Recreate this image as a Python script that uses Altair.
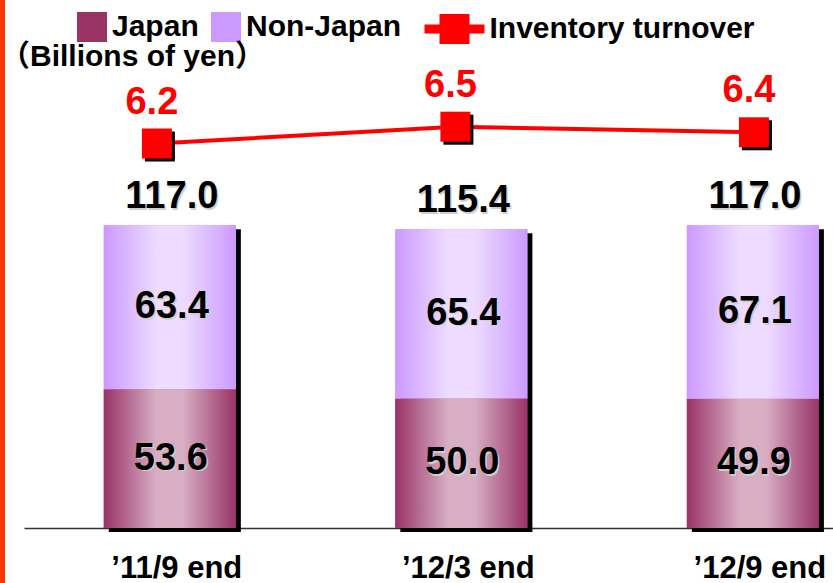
import altair as alt
import pandas as pd

# ---- data ----
categories = ["’11/9 end", "’12/3 end", "’12/9 end"]
japan = [53.6, 50.0, 49.9]
non_japan = [63.4, 65.4, 67.1]
totals = [117.0, 115.4, 117.0]
turnover = [6.2, 6.5, 6.4]
series_names = ["Japan", "Non-Japan"]
series_colors = ["#993366", "#CC99FF"]
line_name = "Inventory turnover"

df = pd.DataFrame({
    "period": categories,
    "Japan": japan,
    "Non-Japan": non_japan,
    "total": totals,
    "turnover": turnover,
})

FONT = "Liberation Sans"
W, H = 809, 528

base = alt.Chart(df)

# ---------------- bar group ----------------
x_bar = alt.X(
    "period:N", sort=categories,
    scale=alt.Scale(paddingInner=0.547, paddingOuter=0.161, align=0.85),
    axis=alt.Axis(title=None, labelAngle=0, domainColor="#333333", domainWidth=1.5,
                  ticks=False, tickSize=0, labelFont=FONT, labelFontSize=31,
                  labelFontWeight="bold", labelColor="black", labelBaseline="alphabetic",
                  labelPadding=49, labelOffset=7, labelAlign="center"),
)
y_scale = alt.Scale(domain=[0, 204], nice=False, zero=True)


def grad(edge, light):
    return alt.Gradient(
        gradient="linear",
        stops=[
            alt.GradientStop(color=edge, offset=0),
            alt.GradientStop(color=light, offset=0.4),
            alt.GradientStop(color=light, offset=0.6),
            alt.GradientStop(color=edge, offset=1),
        ],
        x1=0, x2=1, y1=0, y2=0,
    )


left_rule = base.mark_rule(color="#FF3300", strokeWidth=5).encode(
    x=alt.value(-21.5), y=alt.value(0), y2=alt.value(583)
)

shadow = base.mark_bar(color="black", xOffset=5, yOffset=4).encode(
    x=x_bar, y=alt.Y("total:Q", scale=y_scale, axis=None)
)

legend_bars = base.transform_fold(series_names, as_=["series", "amount"]).mark_bar().encode(
    x=x_bar,
    y=alt.Y("amount:Q", stack="zero", scale=y_scale, axis=None),
    color=alt.Color(
        "series:N",
        scale=alt.Scale(domain=series_names, range=series_colors),
        legend=alt.Legend(
            title=None, orient="none", legendX=53, legendY=12, direction="horizontal",
            symbolType="square", symbolSize=900, symbolStrokeWidth=0,
            labelFont=FONT, labelFontSize=30, labelFontWeight="bold", labelColor="black",
            labelOffset=5, columnPadding=12, padding=0, labelLimit=400,
        ),
    ),
    order=alt.Order("series:N"),
)

japan_bar = base.mark_bar(color=grad("#993366", "#D8AEC4")).encode(
    x=x_bar, y=alt.Y("Japan:Q", scale=y_scale, axis=None)
)
nonjapan_bar = base.mark_bar(color=grad("#CC99FF", "#EDDCFF")).encode(
    x=x_bar, y=alt.Y("Japan:Q", scale=y_scale, axis=None), y2="total:Q"
)

txt = dict(font=FONT, fontSize=38, fontWeight="bold")
SH = "#CFCFCF"

tot_sh = base.mark_text(color=SH, baseline="alphabetic", dx=3.5, dy=-15.5, **txt).encode(
    x=x_bar, y=alt.Y("total:Q", scale=y_scale, axis=None), text=alt.Text("total:Q", format=".1f"))
tot = base.mark_text(color="black", baseline="alphabetic", dx=2, dy=-17, **txt).encode(
    x=x_bar, y=alt.Y("total:Q", scale=y_scale, axis=None), text=alt.Text("total:Q", format=".1f"))

mids = base.transform_calculate(
    jmid="datum.Japan / 2", nmid="datum.Japan + datum['Non-Japan'] / 2"
)
j_sh = mids.mark_text(color=SH, baseline="middle", dx=2.5, dy=1.5, **txt).encode(
    x=x_bar, y=alt.Y("jmid:Q", scale=y_scale, axis=None), text=alt.Text("Japan:Q", format=".1f"))
j_t = mids.mark_text(color="black", baseline="middle", dx=1, dy=0, **txt).encode(
    x=x_bar, y=alt.Y("jmid:Q", scale=y_scale, axis=None), text=alt.Text("Japan:Q", format=".1f"))
n_sh = mids.mark_text(color=SH, baseline="middle", dx=3.5, dy=1.5, **txt).encode(
    x=x_bar, y=alt.Y("nmid:Q", scale=y_scale, axis=None), text=alt.Text("Non-Japan:Q", format=".1f"))
n_t = mids.mark_text(color="black", baseline="middle", dx=2, dy=0, **txt).encode(
    x=x_bar, y=alt.Y("nmid:Q", scale=y_scale, axis=None), text=alt.Text("Non-Japan:Q", format=".1f"))

bars = alt.layer(left_rule, shadow, legend_bars, japan_bar, nonjapan_bar,
                 tot_sh, tot, j_sh, j_t, n_sh, n_t)

# ---------------- line group ----------------
x_line = alt.X("period:N", sort=categories,
               scale=alt.Scale(type="point", padding=0.355, align=0.627), axis=None)
y_line = alt.Y("turnover:Q", scale=alt.Scale(domain=[-0.666, 8.7626], zero=False, nice=False),
               axis=None)

line = base.mark_line(color="#FF0000", strokeWidth=4).encode(x=x_line, y=y_line)
m_shadow = base.mark_point(shape="square", size=900, filled=True, color="black", opacity=1,
                           xOffset=3, yOffset=3).encode(x=x_line, y=y_line)
markers = base.mark_point(shape="square", size=900, filled=True, color="#FF0000",
                          opacity=1).encode(x=x_line, y=y_line)
red_lbl = base.mark_text(color="#FF0000", baseline="alphabetic", dx=-5, dy=-30, **txt).encode(
    x=x_line, y=y_line, text=alt.Text("turnover:Q", format=".1f"))

line_symbol = "M-2,-0.3H2V0.3H-2Z M-1,-1H1V1H-1Z"
line_legend = base.transform_calculate(series="'" + line_name + "'").transform_filter(
    "datum.turnover < 0"
).mark_point(filled=True, color="#FF0000", opacity=1).encode(
    x=x_line, y=y_line,
    shape=alt.Shape(
        "series:N",
        scale=alt.Scale(domain=[line_name], range=[line_symbol]),
        legend=alt.Legend(
            title=None, orient="none", legendX=415.5, legendY=14, direction="horizontal",
            symbolSize=900, symbolFillColor="#FF0000", symbolStrokeWidth=0, symbolOpacity=1,
            labelFont=FONT, labelFontSize=30, labelFontWeight="bold", labelColor="black",
            labelOffset=20, padding=0, labelLimit=400,
        ),
    ),
)

lines = alt.layer(line, m_shadow, markers, red_lbl, line_legend)

chart = alt.layer(bars, lines).resolve_scale(
    x="independent", y="independent"
).properties(
    width=W, height=H,
    title=alt.TitleParams(
        text="（Billions of yen）", anchor="start", orient="top", frame="group",
        font=FONT + ", Noto Sans CJK JP", fontSize=30, fontWeight="bold", color="black",
        baseline="alphabetic", offset=0, dx=-24, dy=98,
    ),
    autosize=alt.AutoSizeParams(type="none"),
    padding={"left": 24, "top": 0, "right": 0, "bottom": 55},
    background="white",
).configure_view(stroke=None)

chart.save("out.html", embed_options={"renderer": "svg", "actions": False})
